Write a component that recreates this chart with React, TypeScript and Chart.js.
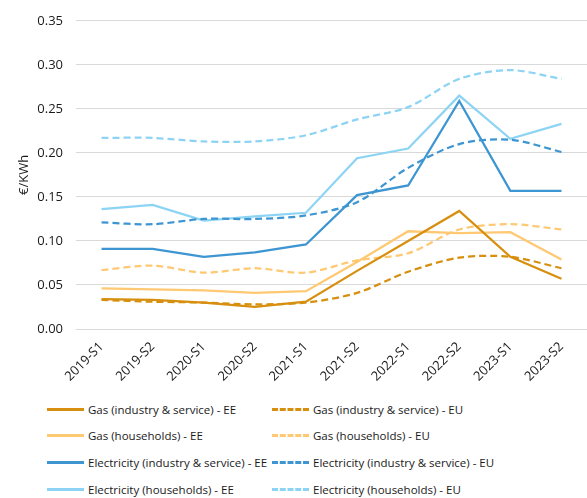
import React, { useEffect, useRef } from "react";
import { Chart, registerables } from "chart.js";

Chart.register(...registerables);

const categories = ["2019-S1", "2019-S2", "2020-S1", "2020-S2", "2021-S1", "2021-S2", "2022-S1", "2022-S2", "2023-S1", "2023-S2"];
const yTicks = [0, 0.05, 0.1, 0.15, 0.2, 0.25, 0.3, 0.35];

const gasIndEE = [0.034, 0.033, 0.030, 0.025, 0.031, 0.066, 0.100, 0.134, 0.082, 0.057];
const gasIndEU = [0.033, 0.031, 0.030, 0.028, 0.030, 0.041, 0.065, 0.081, 0.082, 0.069];
const gasHhEE = [0.046, 0.045, 0.044, 0.041, 0.043, 0.076, 0.111, 0.109, 0.110, 0.079];
const gasHhEU = [0.067, 0.072, 0.064, 0.069, 0.064, 0.078, 0.086, 0.113, 0.119, 0.113];
const elIndEE = [0.091, 0.091, 0.082, 0.087, 0.096, 0.152, 0.163, 0.259, 0.157, 0.157];
const elIndEU = [0.121, 0.119, 0.125, 0.125, 0.129, 0.144, 0.183, 0.210, 0.215, 0.201];
const elHhEE = [0.136, 0.141, 0.123, 0.128, 0.132, 0.194, 0.205, 0.265, 0.216, 0.233];
const elHhEU = [0.217, 0.217, 0.213, 0.213, 0.220, 0.238, 0.252, 0.284, 0.294, 0.284];

const C_GAS_IND = "#D68F0E";
const C_GAS_HH = "#FFC872";
const C_EL_IND = "#3D95D1";
const C_EL_HH = "#8DD4F4";

const seriesDefs = [
  { label: "Gas (industry & service) - EE", data: gasIndEE, color: C_GAS_IND, dashed: false },
  { label: "Gas (industry & service) - EU", data: gasIndEU, color: C_GAS_IND, dashed: true },
  { label: "Gas (households) - EE", data: gasHhEE, color: C_GAS_HH, dashed: false },
  { label: "Gas (households) - EU", data: gasHhEU, color: C_GAS_HH, dashed: true },
  { label: "Electricity (industry & service) - EE", data: elIndEE, color: C_EL_IND, dashed: false },
  { label: "Electricity (industry & service) - EU", data: elIndEU, color: C_EL_IND, dashed: true },
  { label: "Electricity (households) - EE", data: elHhEE, color: C_EL_HH, dashed: false },
  { label: "Electricity (households) - EU", data: elHhEU, color: C_EL_HH, dashed: true },
];

const FONT = "'Open Sans', 'Noto Sans', sans-serif";
const TXT = "#1a1a1a";

export default function App() {
  const ref = useRef<HTMLCanvasElement | null>(null);

  useEffect(() => {
    if (!ref.current) return;
    const chart = new Chart(ref.current, {
      type: "line",
      data: {
        labels: categories,
        datasets: seriesDefs.map((s) => ({
          label: s.label,
          data: s.data,
          borderColor: s.color,
          backgroundColor: s.color,
          borderWidth: 2.25,
          borderDash: s.dashed ? [7, 4] : [],
          pointRadius: 0,
          pointHoverRadius: 0,
          tension: s.dashed ? 0.3 : 0,
          fill: false,
        })),
      },
      options: {
        animation: false,
        responsive: false,
        maintainAspectRatio: false,
        layout: { padding: { top: 19, right: 0, left: 0, bottom: 0 } },
        plugins: {
          legend: { display: false },
          tooltip: { enabled: false },
        },
        scales: {
          x: {
            offset: true,
            grid: { display: false },
            border: { display: false },
            ticks: {
              minRotation: 45,
              maxRotation: 45,
              color: TXT,
              padding: 2,
              font: { family: FONT, size: 13 },
            },
            afterFit: (axis: any) => {
              axis.height = 56;
            },
          },
          y: {
            min: 0,
            max: 0.35,
            afterBuildTicks: (axis: any) => {
              axis.ticks = yTicks.map((v) => ({ value: v }));
            },
            grid: { color: "#D9D9D9", lineWidth: 1, drawTicks: false },
            border: { display: false },
            ticks: {
              color: TXT,
              padding: 13,
              font: { family: FONT, size: 13 },
              callback: (v: any) => Number(v).toFixed(2),
            },
            title: {
              display: true,
              text: "€/KWh",
              color: TXT,
              font: { family: FONT, size: 13 },
              padding: { top: 16, bottom: 4 },
            },
            afterFit: (axis: any) => {
              axis.width = 76;
            },
          },
        },
      },
    });
    return () => chart.destroy();
  }, []);

  const rows = [0, 1, 2, 3];
  return (
    <div style={{ position: "fixed", left: 0, top: 0, width: 587, height: 498, background: "#fff", fontFamily: FONT }}>
      <canvas ref={ref} width={587} height={385} style={{ display: "block", width: 587, height: 385 }} />
      {rows.map((r) =>
        [0, 1].map((c) => {
          const s = seriesDefs[r * 2 + c];
          const left = c === 0 ? 47 : 272;
          const top = 409 + r * 26.8;
          return (
            <div key={s.label} style={{ position: "absolute", left, top: top - 9, height: 18, display: "flex", alignItems: "center", whiteSpace: "nowrap" }}>
              <div
                style={{
                  width: 37,
                  height: 0,
                  borderTop: `3px ${s.dashed ? "dashed" : "solid"} ${s.color}`,
                  marginRight: 4,
                }}
              />
              <span style={{ fontSize: 11.5, color: TXT }}>{s.label}</span>
            </div>
          );
        })
      )}
    </div>
  );
}
